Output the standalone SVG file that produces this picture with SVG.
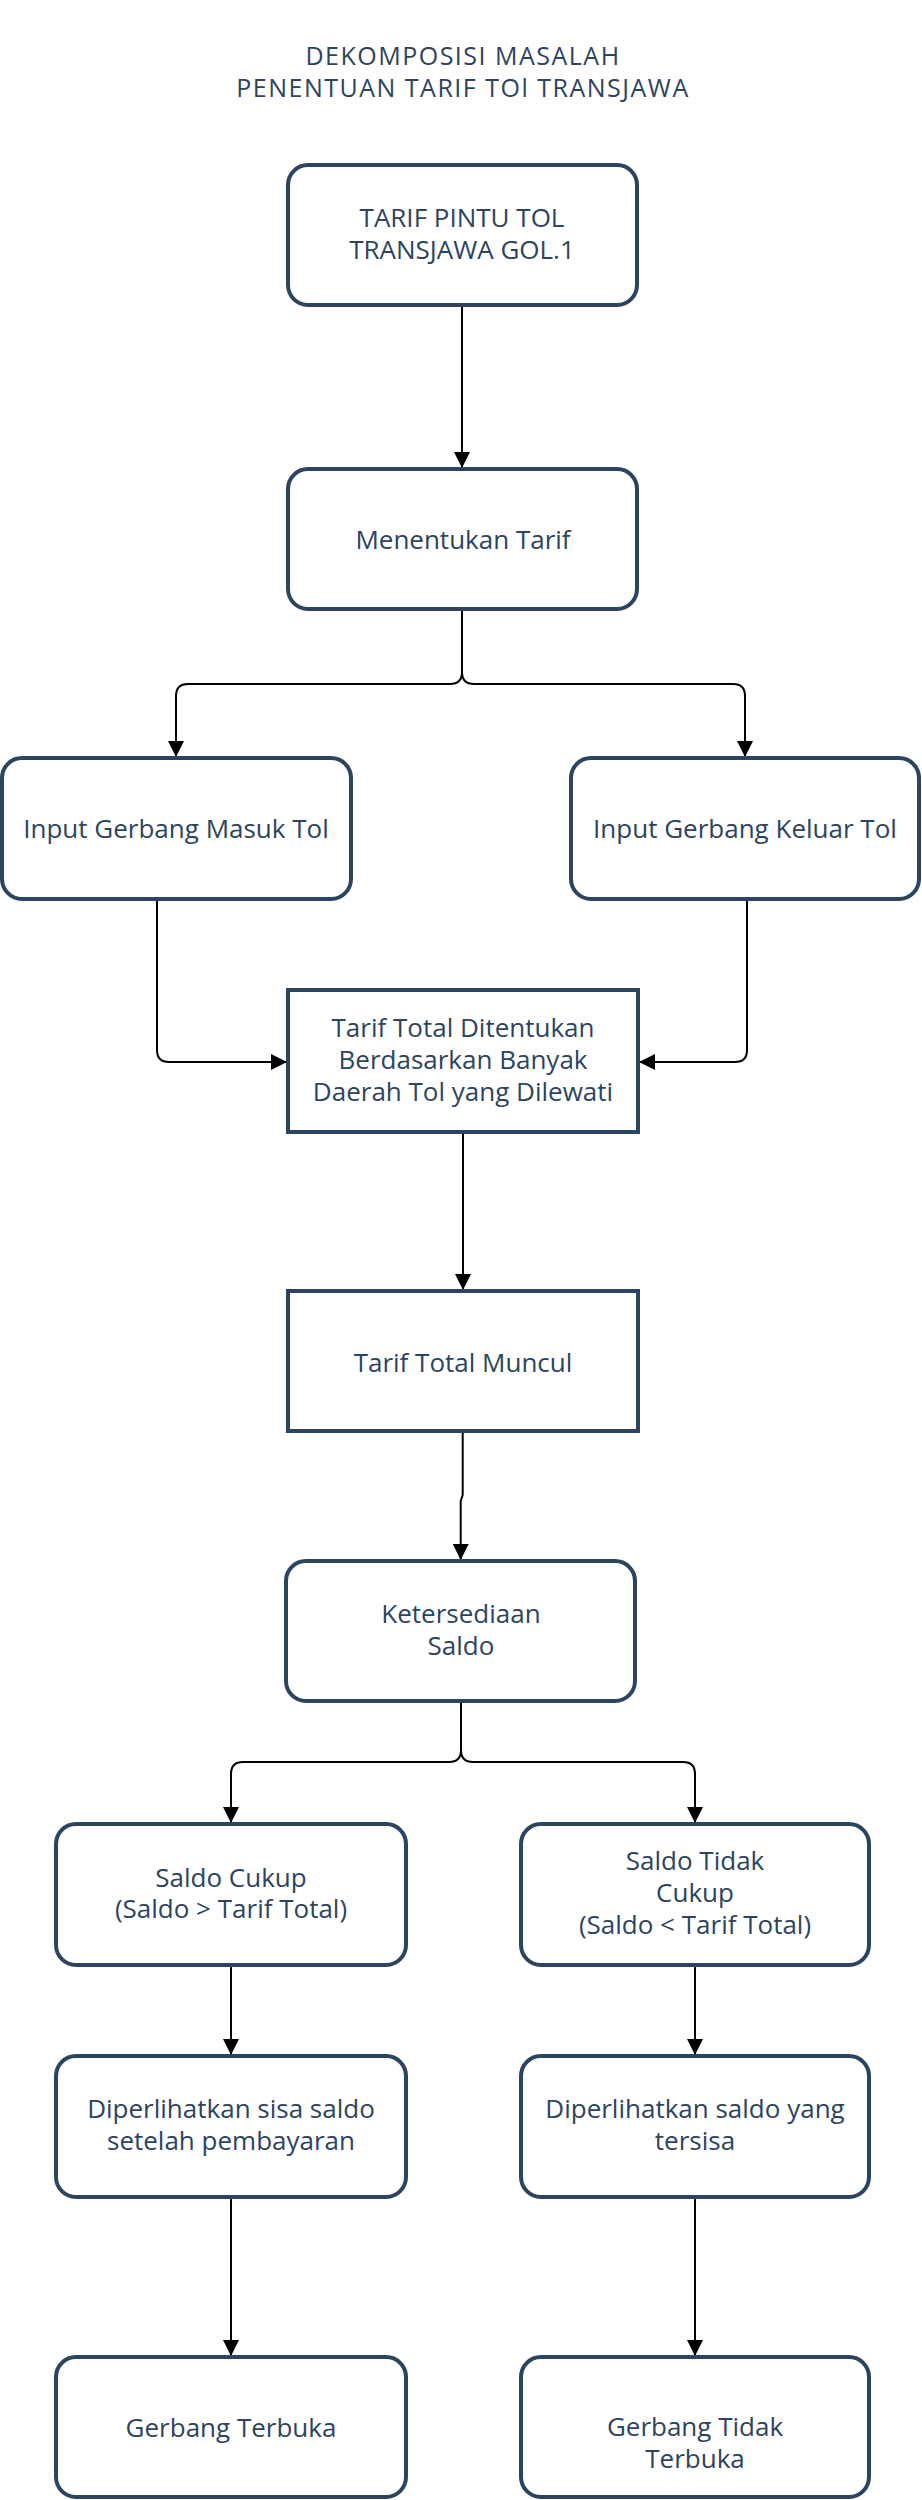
<svg xmlns="http://www.w3.org/2000/svg" width="922" height="2500" viewBox="0 0 922 2500">
<style>
.box{fill:#ffffff;stroke:#2d4461;stroke-width:4}
.t{font-family:"Open Sans","Liberation Sans",sans-serif;font-size:26px;fill:#2d4461;text-anchor:middle}
.title{font-family:"Open Sans","Liberation Sans",sans-serif;font-size:25px;letter-spacing:1.5px;fill:#2d4461;text-anchor:middle}
.c{fill:none;stroke:#000000;stroke-width:2}
</style>
<defs>
<marker id="ah" markerUnits="userSpaceOnUse" markerWidth="16" markerHeight="16" viewBox="0 0 16 16" refX="15" refY="8" orient="auto">
<path d="M0,0 L16,8 L0,16 Z" fill="#000000"/>
</marker>
</defs>
<rect width="922" height="2500" fill="#ffffff"/>
<g id="title">
<text class="title" x="463" y="65">DEKOMPOSISI MASALAH</text>
<text class="title" x="463" y="97">PENENTUAN TARIF TOl TRANSJAWA</text>
</g>
<g id="connectors">
<path class="c" d="M462,307 V467" marker-end="url(#ah)"/>
<path class="c" d="M462,611 V672 Q462,684 450,684 H188 Q176,684 176,696 V756" marker-end="url(#ah)"/>
<path class="c" d="M462,672 Q462,684 474,684 H733 Q745,684 745,696 V756" marker-end="url(#ah)"/>
<path class="c" d="M157,901 V1050 Q157,1062 169,1062 H286" marker-end="url(#ah)"/>
<path class="c" d="M747,901 V1050 Q747,1062 735,1062 H640" marker-end="url(#ah)"/>
<path class="c" d="M463,1134 V1289" marker-end="url(#ah)"/>
<path class="c" d="M462.7,1433 V1495 L460.7,1501 V1559" marker-end="url(#ah)"/>
<path class="c" d="M461,1703 V1750 Q461,1762 449,1762 H243 Q231,1762 231,1774 V1822" marker-end="url(#ah)"/>
<path class="c" d="M461,1750 Q461,1762 473,1762 H683 Q695,1762 695,1774 V1822" marker-end="url(#ah)"/>
<path class="c" d="M231,1967 V2054" marker-end="url(#ah)"/>
<path class="c" d="M695,1967 V2054" marker-end="url(#ah)"/>
<path class="c" d="M231,2199 V2355" marker-end="url(#ah)"/>
<path class="c" d="M695,2199 V2355" marker-end="url(#ah)"/>
</g>
<g id="n1">
<rect class="box" x="288" y="165" width="349" height="140" rx="20"/>
<text class="t" x="462" y="227">TARIF PINTU TOL</text>
<text class="t" x="462" y="259">TRANSJAWA GOL.1</text>
</g>
<g id="n2">
<rect class="box" x="288" y="469" width="349" height="140" rx="20"/>
<text class="t" x="463" y="549">Menentukan Tarif</text>
</g>
<g id="n3">
<rect class="box" x="2" y="758" width="349" height="141" rx="20"/>
<text class="t" x="176" y="838">Input Gerbang Masuk Tol</text>
</g>
<g id="n4">
<rect class="box" x="571" y="758" width="348" height="141" rx="20"/>
<text class="t" x="745" y="838">Input Gerbang Keluar Tol</text>
</g>
<g id="n5">
<rect class="box" x="288" y="990" width="350" height="142"/>
<text class="t" x="463" y="1037">Tarif Total Ditentukan</text>
<text class="t" x="463" y="1069">Berdasarkan Banyak</text>
<text class="t" x="463" y="1101">Daerah Tol yang Dilewati</text>
</g>
<g id="n6">
<rect class="box" x="288" y="1291" width="350" height="140"/>
<text class="t" x="463" y="1372">Tarif Total Muncul</text>
</g>
<g id="n7">
<rect class="box" x="286" y="1561" width="349" height="140" rx="20"/>
<text class="t" x="461" y="1623">Ketersediaan</text>
<text class="t" x="461" y="1655">Saldo</text>
</g>
<g id="n8">
<rect class="box" x="56" y="1824" width="350" height="141" rx="20"/>
<text class="t" x="231" y="1887">Saldo Cukup</text>
<text class="t" x="231" y="1918">(Saldo &gt; Tarif Total)</text>
</g>
<g id="n9">
<rect class="box" x="521" y="1824" width="348" height="141" rx="20"/>
<text class="t" x="695" y="1870">Saldo Tidak</text>
<text class="t" x="695" y="1902">Cukup</text>
<text class="t" x="695" y="1934">(Saldo &lt; Tarif Total)</text>
</g>
<g id="n10">
<rect class="box" x="56" y="2056" width="350" height="141" rx="20"/>
<text class="t" x="231" y="2118">Diperlihatkan sisa saldo</text>
<text class="t" x="231" y="2150">setelah pembayaran</text>
</g>
<g id="n11">
<rect class="box" x="521" y="2056" width="348" height="141" rx="20"/>
<text class="t" x="695" y="2118">Diperlihatkan saldo yang</text>
<text class="t" x="695" y="2150">tersisa</text>
</g>
<g id="n12">
<rect class="box" x="56" y="2357" width="350" height="140" rx="20"/>
<text class="t" x="231" y="2437">Gerbang Terbuka</text>
</g>
<g id="n13">
<rect class="box" x="521" y="2357" width="348" height="140" rx="20"/>
<text class="t" x="695" y="2436">Gerbang Tidak</text>
<text class="t" x="695" y="2468">Terbuka</text>
</g>
</svg>
